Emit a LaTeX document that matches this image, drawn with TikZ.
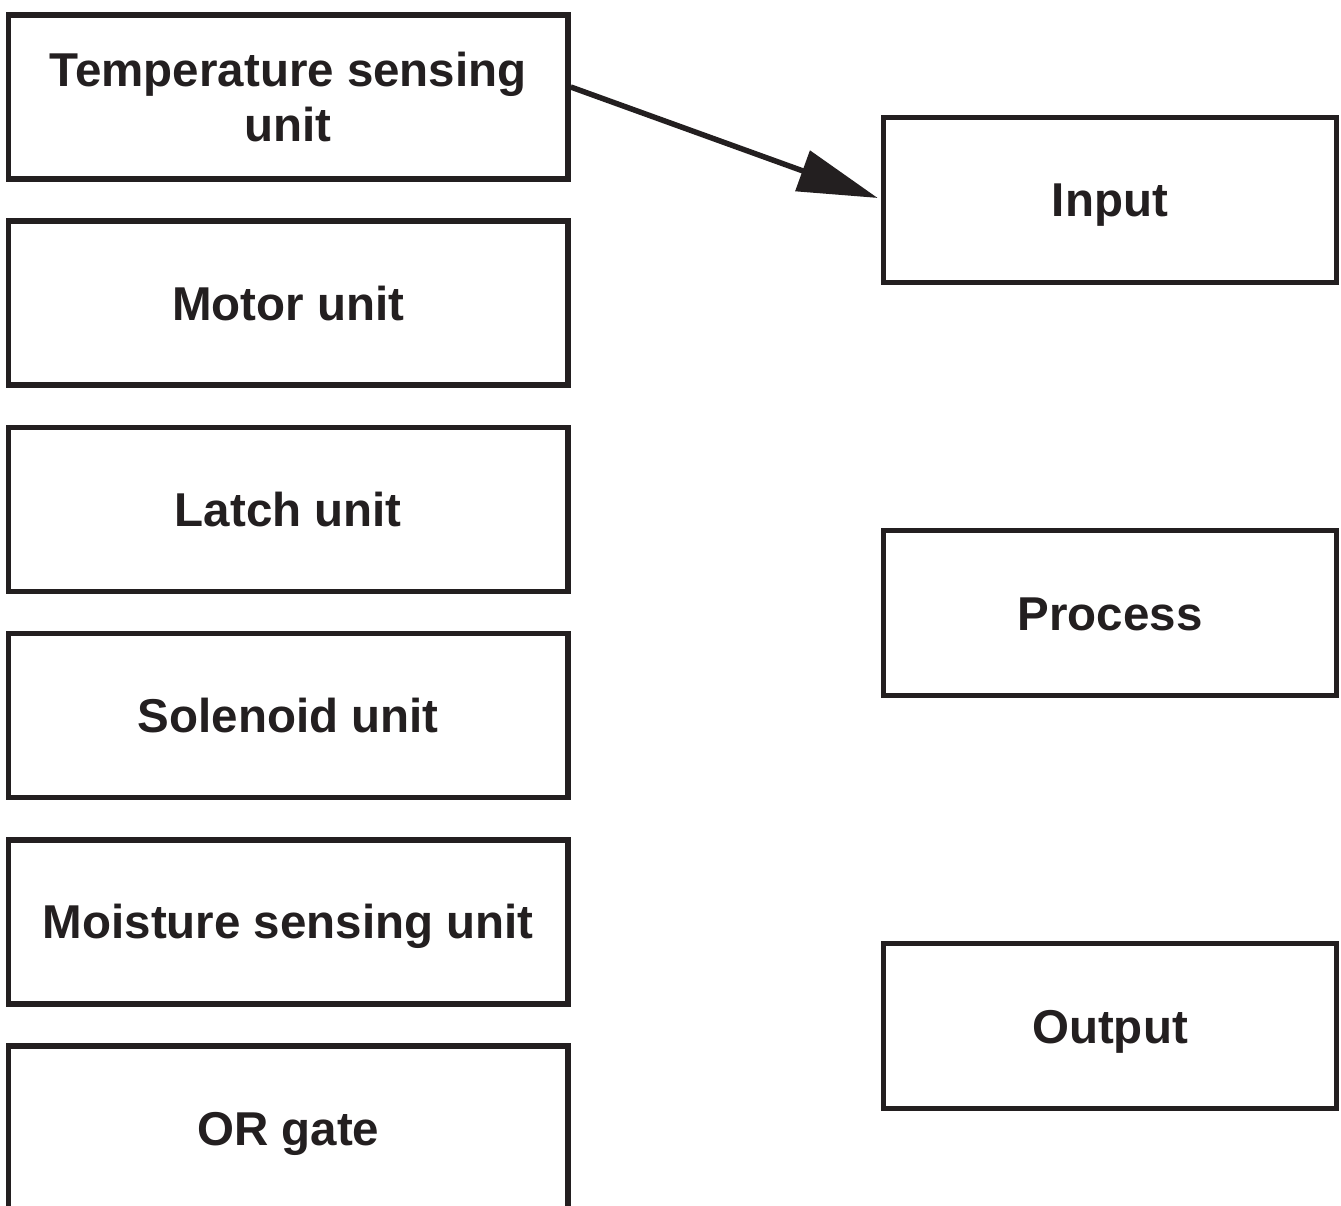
\documentclass[tikz,border=0pt]{standalone}
\usepackage{fontspec}
\setmainfont{Liberation Sans}
\usetikzlibrary{arrows.meta}
\definecolor{ink}{HTML}{231F20}
\begin{document}
\begin{tikzpicture}[x=1pt,y=-1pt,
  box/.style={draw=ink, line width=5.5pt, inner sep=0pt, align=center, text=ink,
    font=\fontsize{47.5}{55}\selectfont\bfseries, text height=34pt, text depth=0pt},
  leftbox/.style={box, minimum width=559.5pt, minimum height=164pt},
  rightbox/.style={box, minimum width=453pt, minimum height=165pt},
  conn/.style={draw=ink, line width=5.5pt, -{Triangle[length=80pt,width=42pt]}}
]
\clip (0,0) rectangle (1341,1206);
\fill[white] (0,0) rectangle (1341,1206);
\node[leftbox, text height=89pt] (temp) at (288.25,97) {Temperature sensing\\unit};
\node[leftbox] (motor) at (288.25,303.2) {Motor unit};
\node[leftbox] (latch) at (288.25,509.4) {Latch unit};
\node[leftbox] (sol) at (288.25,715.6) {Solenoid unit};
\node[leftbox] (moist) at (288.25,921.8) {Moisture sensing unit};
\node[leftbox] (orgate) at (288.25,1128) {OR gate};
\node[rightbox] (in) at (1110,200) {Input};
\node[rightbox] (proc) at (1110,613) {Process};
\node[rightbox] (out) at (1110,1026) {Output};
\draw[conn] ([yshift=10pt]temp.east) -- ([yshift=2pt,xshift=-3pt]in.west);
\end{tikzpicture}
\end{document}
